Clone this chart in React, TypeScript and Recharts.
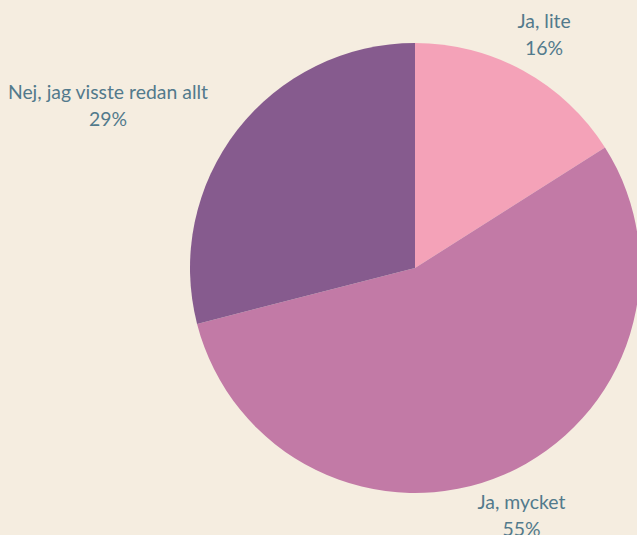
import { PieChart, Pie, Cell } from "recharts";

const answers = ["Ja, lite", "Ja, mycket", "Nej, jag visste redan allt"];
const shares = [16, 55, 29];
const colors = ["#f4a2b8", "#c27aa6", "#865b8e"];

const data = answers.map((name, i) => ({ name, value: shares[i] }));

const RAD = Math.PI / 180;
const FONT = "19.4px Lato";

let ctx: CanvasRenderingContext2D | null = null;
function measure(text: string) {
  if (!ctx) ctx = document.createElement("canvas").getContext("2d");
  if (!ctx) return text.length * 8;
  ctx.font = FONT;
  return ctx.measureText(text).width;
}

function renderLabel(props: any) {
  const { cx, cy, midAngle, outerRadius, name, value } = props;
  const r = outerRadius + 43;
  const cos = Math.cos(-midAngle * RAD);
  const sin = Math.sin(-midAngle * RAD);
  const x = cx + r * cos;
  const y = cy + r * sin;
  const w = Math.max(measure(name), measure(value + "%"));
  // wide labels on the sides sit next to the pie, otherwise centred on the point
  let tx = x;
  if (cos < -0.7) tx = x + 5 - w / 2;
  else if (cos > 0.7) tx = x - 5 + w / 2;
  return (
    <text
      x={tx}
      y={y}
      fill="#527a8c"
      fontSize={19.4}
      fontFamily="Lato, 'Noto Sans', sans-serif"
      textAnchor="middle"
    >
      <tspan x={tx} dy={-5}>
        {name}
      </tspan>
      <tspan x={tx} dy={27}>
        {value}%
      </tspan>
    </text>
  );
}

export default function App() {
  return (
    <div
      style={{
        position: "absolute",
        left: 0,
        top: 0,
        width: 637,
        height: 535,
        background: "#f5ede0",
        overflow: "hidden",
      }}
    >
      <PieChart
        width={637}
        height={535}
        margin={{ top: 0, right: 0, bottom: 0, left: 0 }}
      >
        <Pie
          data={data}
          dataKey="value"
          nameKey="name"
          cx={415}
          cy={268}
          outerRadius={225}
          startAngle={90}
          endAngle={-270}
          stroke="none"
          label={renderLabel}
          labelLine={false}
          isAnimationActive={false}
        >
          {data.map((d, i) => (
            <Cell key={d.name} fill={colors[i]} />
          ))}
        </Pie>
      </PieChart>
    </div>
  );
}
